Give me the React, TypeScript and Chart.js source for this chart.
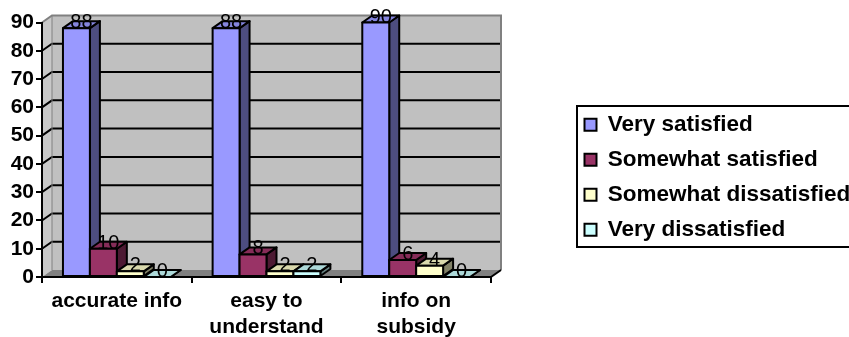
import React, { useEffect, useRef } from "react";
import { Chart, registerables } from "chart.js";

Chart.register(...registerables);

// ---- data ----
const categories: (string | string[])[] = [
  "accurate info",
  ["easy to", "understand"],
  ["info on", "subsidy"],
];
const seriesNames = [
  "Very satisfied",
  "Somewhat satisfied",
  "Somewhat dissatisfied",
  "Very dissatisfied",
];
const verySatisfied = [88, 88, 90];
const somewhatSatisfied = [10, 8, 6];
const somewhatDissatisfied = [2, 2, 4];
const veryDissatisfied = [0, 2, 0];
const seriesValues = [verySatisfied, somewhatSatisfied, somewhatDissatisfied, veryDissatisfied];
const yMin = 0;
const yMax = 90;
const yStep = 10;

// ---- style ----
const frontColors = ["#9999FF", "#993366", "#FFFFCC", "#CCFFFF"];
const topColors = ["#8585DE", "#852C58", "#D9D9AD", "#ADD9D9"];
const sideColors = ["#4D4D80", "#4D1A33", "#808066", "#668080"];
const FONT = "'Liberation Sans', Arial, sans-serif";
const DX = 10;
const DY = -7;
const W = 849;
const H = 337;

const threeD = {
  id: "threeD",
  afterLayout(chart: any) {
    const lg = chart.legend;
    if (!lg) return;
    lg.left = 572;
    lg.right = W;
    lg.width = lg.right - lg.left;
    lg.top = 101;
    lg.bottom = 330;
    lg.height = lg.bottom - lg.top;
  },
  beforeDraw(chart: any) {
    const { ctx, chartArea } = chart;
    const L = chartArea.left, R = chartArea.right, T = chartArea.top, B = chartArea.bottom;
    const ys = chart.scales.y;
    ctx.save();
    ctx.fillStyle = "#C0C0C0";
    ctx.fillRect(L + DX, T + DY, R - L, B - T);
    ctx.beginPath();
    ctx.moveTo(L, T);
    ctx.lineTo(L + DX, T + DY);
    ctx.lineTo(L + DX, B + DY);
    ctx.lineTo(L, B);
    ctx.closePath();
    ctx.fillStyle = "#C8C8C8";
    ctx.fill();
    ctx.beginPath();
    ctx.moveTo(L, B);
    ctx.lineTo(R, B);
    ctx.lineTo(R + DX, B + DY);
    ctx.lineTo(L + DX, B + DY);
    ctx.closePath();
    ctx.fillStyle = "#808080";
    ctx.fill();
    ctx.strokeStyle = "#000";
    ctx.lineWidth = 2;
    ys.ticks.forEach((t: any) => {
      if (t.value <= ys.min || t.value >= ys.max) return;
      const py = ys.getPixelForValue(t.value);
      ctx.beginPath();
      ctx.moveTo(L, py);
      ctx.lineTo(L + DX, py + DY);
      ctx.lineTo(R + DX, py + DY);
      ctx.stroke();
    });
    ctx.strokeStyle = "#808080";
    ctx.lineWidth = 2;
    ctx.beginPath();
    ctx.moveTo(L, T);
    ctx.lineTo(L + DX, T + DY);
    ctx.lineTo(R + DX, T + DY);
    ctx.lineTo(R + DX, B + DY);
    ctx.stroke();
    ctx.lineWidth = 1;
    ctx.beginPath();
    ctx.moveTo(L + DX, T + DY);
    ctx.lineTo(L + DX, B + DY);
    ctx.stroke();
    ctx.strokeStyle = "#000";
    ctx.lineWidth = 2;
    ctx.beginPath();
    ctx.moveTo(R, B);
    ctx.lineTo(R + DX, B + DY);
    ctx.stroke();
    ctx.restore();
  },
  afterDatasetsDraw(chart: any) {
    const { ctx } = chart;
    const n = chart.data.labels.length;
    const nd = chart.data.datasets.length;
    ctx.save();
    ctx.lineWidth = 2;
    ctx.strokeStyle = "#000";
    ctx.lineJoin = "round";
    const poly = (pts: number[][], fill: string) => {
      ctx.beginPath();
      ctx.moveTo(pts[0][0], pts[0][1]);
      for (let k = 1; k < pts.length; k++) ctx.lineTo(pts[k][0], pts[k][1]);
      ctx.closePath();
      ctx.fillStyle = fill;
      ctx.fill();
      ctx.stroke();
    };
    for (let j = 0; j < n; j++) {
      for (let i = 0; i < nd; i++) {
        const bar = chart.getDatasetMeta(i).data[j];
        const { x, y, width, base } = bar.getProps(["x", "y", "width", "base"], true);
        const x0 = x - width / 2;
        const x1 = x + width / 2;
        poly([[x1, y], [x1 + DX, y + DY], [x1 + DX, base + DY], [x1, base]], sideColors[i]);
        poly([[x0, y], [x0 + DX, y + DY], [x1 + DX, y + DY], [x1, y]], topColors[i]);
        poly([[x0, y], [x1, y], [x1, base], [x0, base]], frontColors[i]);
      }
    }
    ctx.fillStyle = "#000";
    ctx.font = `20px ${FONT}`;
    ctx.textAlign = "center";
    ctx.textBaseline = "alphabetic";
    for (let i = 0; i < nd; i++) {
      const meta = chart.getDatasetMeta(i);
      meta.data.forEach((bar: any, j: number) => {
        const { x, y } = bar.getProps(["x", "y"], true);
        ctx.fillText(String(chart.data.datasets[i].data[j]), x + DX / 2, y);
      });
    }
    ctx.restore();
  },
  afterDraw(chart: any) {
    const lg = chart.legend;
    if (!lg) return;
    const { ctx } = chart;
    ctx.save();
    ctx.strokeStyle = "#000";
    ctx.lineWidth = 2;
    ctx.strokeRect(lg.left + 5, lg.top + 5, 400, 141);
    ctx.restore();
  },
};

export default function App() {
  const ref = useRef<HTMLCanvasElement>(null);
  useEffect(() => {
    const canvas = ref.current;
    if (!canvas) return;
    const chart = new Chart(canvas, {
      type: "bar",
      data: {
        labels: categories,
        datasets: seriesNames.map((name, i) => ({
          label: name,
          data: seriesValues[i],
          backgroundColor: frontColors[i],
          borderColor: "#000",
          borderWidth: 2,
          categoryPercentage: 0.72,
          barPercentage: 1,
        })),
      },
      options: {
        responsive: false,
        animation: false,
        devicePixelRatio: 1,
        events: [],
        layout: { padding: { top: 22.5, right: W - 491 - 1, bottom: 0, left: 0 } },
        plugins: {
          legend: {
            position: "right",
            align: "start",
            maxWidth: 1,
            labels: {
              boxWidth: 12,
              boxHeight: 12,
              padding: 12.5,
              color: "#000",
              font: { family: FONT, size: 22.5, weight: "bold" },
            },
          },
          tooltip: { enabled: false },
        },
        scales: {
          x: {
            type: "category",
            offset: true,
            grid: {
              offset: true,
              drawOnChartArea: false,
              drawTicks: true,
              tickLength: 6,
              color: "#000",
              lineWidth: 2,
            },
            border: { display: true, color: "#000", width: 2 },
            ticks: {
              color: "#000",
              padding: 5,
              maxRotation: 0,
              minRotation: 0,
              autoSkip: false,
              font: { family: FONT, size: 21, weight: "bold", lineHeight: 1.25 },
            },
            afterFit: (s: any) => {
              s.height = 60;
            },
          },
          y: {
            min: yMin,
            max: yMax,
            grid: {
              drawOnChartArea: false,
              drawTicks: true,
              tickLength: 6,
              color: "#000",
              lineWidth: 2,
            },
            border: { display: true, color: "#000", width: 2 },
            ticks: {
              stepSize: yStep,
              color: "#000",
              padding: 2,
              autoSkip: false,
              font: { family: FONT, size: 21, weight: "bold" },
            },
            afterFit: (s: any) => {
              s.width = 42;
            },
          },
        },
      } as any,
      plugins: [threeD],
    });
    return () => chart.destroy();
  }, []);
  return (
    <div
      style={{
        position: "fixed",
        left: 0,
        top: 0,
        width: W,
        height: H,
        overflow: "hidden",
        background: "#fff",
      }}
    >
      <canvas ref={ref} width={W} height={H} style={{ display: "block", width: W, height: H }} />
    </div>
  );
}
